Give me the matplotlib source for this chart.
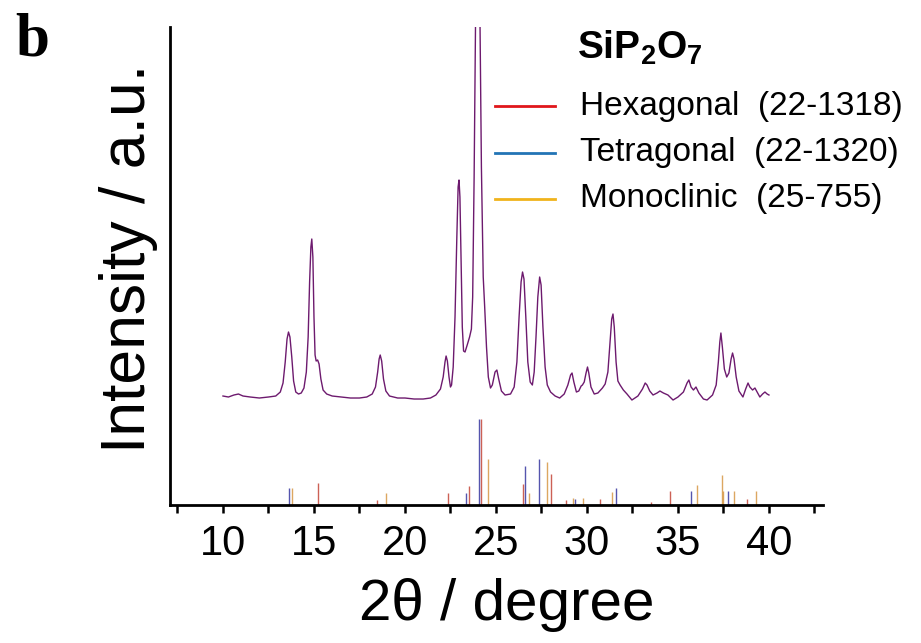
import matplotlib
matplotlib.use("Agg")
import matplotlib.pyplot as plt
from matplotlib.lines import Line2D

plt.rcParams['font.family'] = ['Liberation Sans', 'DejaVu Sans']
plt.rcParams['mathtext.fontset'] = 'custom'
plt.rcParams['mathtext.rm'] = 'Liberation Sans'
plt.rcParams['mathtext.bf'] = 'Liberation Sans:bold'

# measured SiP2O7 pattern: (2theta, intensity above its own baseline)
pattern = [
    (10.0, 1), (10.3, 0), (10.6, 2), (10.85, 3), (11.1, 1), (11.5, 0),
    (12.0, -1), (12.5, 0), (12.9, 1), (13.15, 5), (13.3, 14), (13.42, 35),
    (13.52, 58), (13.6, 65), (13.68, 60), (13.78, 40), (13.88, 16), (14.0, 5),
    (14.15, 3), (14.3, 4), (14.45, 9), (14.58, 25), (14.68, 60), (14.76, 115),
    (14.83, 150), (14.88, 158), (14.94, 140), (15.0, 80), (15.06, 42),
    (15.12, 36), (15.2, 37), (15.28, 33), (15.38, 18), (15.5, 7), (15.7, 3),
    (16.0, 1), (16.5, 0), (17.0, -1), (17.5, -1), (17.9, 0), (18.2, 3),
    (18.38, 10), (18.5, 25), (18.58, 38), (18.64, 42), (18.72, 36),
    (18.82, 18), (18.95, 6), (19.15, 1), (19.6, -1), (20.0, -1), (20.5, -2),
    (21.0, -2), (21.4, -1), (21.7, 2), (21.95, 8), (22.1, 20), (22.2, 35),
    (22.26, 41), (22.33, 36), (22.42, 20), (22.5, 10), (22.56, 12),
    (22.65, 30), (22.75, 80), (22.85, 160), (22.92, 210), (22.97, 217),
    (23.02, 200), (23.08, 140), (23.15, 70), (23.22, 46), (23.3, 45),
    (23.42, 52), (23.55, 60), (23.65, 68), (23.72, 100), (23.8, 220),
    (23.88, 380), (23.95, 430), (24.05, 430), (24.12, 380), (24.2, 230),
    (24.3, 120), (24.38, 90), (24.48, 50), (24.58, 20), (24.7, 9),
    (24.8, 12), (24.95, 25), (25.05, 27), (25.15, 18), (25.3, 6), (25.5, 2),
    (25.8, 3), (26.0, 10), (26.15, 35), (26.27, 80), (26.38, 115),
    (26.46, 125), (26.54, 118), (26.64, 80), (26.75, 35), (26.88, 15),
    (27.0, 12), (27.1, 25), (27.2, 60), (27.3, 100), (27.4, 120),
    (27.48, 112), (27.58, 70), (27.7, 30), (27.82, 12), (28.0, 5),
    (28.25, 1), (28.5, -1), (28.75, 3), (28.95, 12), (29.1, 22), (29.18, 24),
    (29.28, 15), (29.42, 5), (29.55, 6), (29.68, 11), (29.75, 12),
    (29.85, 15), (29.95, 24), (30.03, 30), (30.1, 24), (30.22, 10),
    (30.4, 3), (30.6, 4), (30.85, 9), (31.0, 13), (31.15, 25), (31.27, 55),
    (31.36, 78), (31.43, 83), (31.5, 70), (31.6, 35), (31.7, 16),
    (31.82, 12), (32.0, 7), (32.2, 3), (32.47, -3), (32.8, 1), (33.05, 8),
    (33.2, 14), (33.3, 12), (33.45, 6), (33.63, 2), (33.85, 4), (34.01, 6),
    (34.2, 4), (34.45, 2), (34.73, -3), (35.0, 0), (35.3, 5), (35.5, 14),
    (35.6, 17), (35.72, 10), (35.85, 7), (35.99, 10), (36.15, 4),
    (36.4, -2), (36.6, -3), (36.9, 2), (37.1, 12), (37.22, 35), (37.3, 55),
    (37.36, 64), (37.44, 50), (37.55, 28), (37.68, 20), (37.8, 24),
    (37.92, 38), (38.0, 44), (38.08, 38), (38.2, 20), (38.35, 6),
    (38.57, 0), (38.72, 8), (38.85, 14), (38.95, 10), (39.1, 7), (39.23, 9),
    (39.35, 5), (39.5, 0), (39.65, 3), (39.78, 5), (39.9, 3), (40.0, 2),
]
two_theta = [p[0] for p in pattern]
intensity = [p[1] for p in pattern]
curve_offset = 108

# reference card positions and relative intensities (%)
hex_pos = [15.22, 18.46, 22.36, 23.52, 24.18, 26.48, 28.02, 28.85, 30.71,
           33.52, 34.56, 38.79]
hex_int = [26, 6, 14, 22, 100, 25, 36, 6, 7, 4, 16, 7]
tet_pos = [13.63, 23.35, 24.05, 26.59, 27.36, 29.34, 31.59, 35.71, 37.75]
tet_int = [20, 14, 100, 45, 53, 7, 20, 16, 16]
mono_pos = [13.79, 18.96, 24.56, 26.81, 27.80, 29.23, 29.78, 31.37, 36.04,
            37.42, 37.47, 38.08, 39.29]
mono_int = [20, 14, 53, 14, 50, 8, 8, 15, 23, 35, 16, 16, 16]
stick_scale = 0.86

phases = ["Hexagonal  (22-1318)", "Tetragonal  (22-1320)", "Monoclinic  (25-755)"]
legend_colors = ["#e0161b", "#2274b5", "#f0b31c"]
stick_colors = ["#c0392b", "#2b2b9a", "#d4913a"]

fig = plt.figure(figsize=(9.21, 6.43), dpi=100)
ax = fig.add_axes([0.1846, 0.2146, 0.709, 0.7434])

for pos, inten, col in zip([hex_pos, tet_pos, mono_pos],
                           [hex_int, tet_int, mono_int], stick_colors):
    ax.vlines(pos, 0, [v * stick_scale for v in inten], colors=col,
              linewidth=1.0, alpha=0.8)

ax.plot(two_theta, [v + curve_offset for v in intensity], color="#6d1a6e",
        linewidth=1.0)

ax.set_xlim(7.09, 42.97)
ax.set_ylim(0, 478)
ax.set_xticks([7.5 + 2.5 * i for i in range(15)])
ax.set_xticklabels(["" if i % 2 == 0 else str(int(7.5 + 2.5 * i))
                    for i in range(15)])
ax.tick_params(axis="x", direction="out", length=6, width=1.8, pad=8,
               labelsize=30)
ax.set_yticks([])
for side in ["top", "right"]:
    ax.spines[side].set_visible(False)
for side in ["left", "bottom"]:
    ax.spines[side].set_linewidth(2)

fig.text(128 / 921, 1 - 258 / 643, "Intensity / a.u.", rotation=90,
         ha="center", va="center", fontsize=45)
fig.text(507 / 921, 1 - 605 / 643, "2θ / degree", ha="center", va="center",
         fontsize=42)
fig.text(15 / 921, 1 - 12 / 643, "b", ha="left", va="top", fontsize=44,
         family="Liberation Serif", weight="bold")

# legend drawn by hand
fig.text(577 / 921, 1 - 48 / 643, r"SiP$_\mathbf{2}$O$_\mathbf{7}$",
         ha="left", va="center", fontsize=28, weight="bold")
for i, (name, col) in enumerate(zip(phases, legend_colors)):
    yf = 1 - (106 + 46.5 * i) / 643
    fig.add_artist(Line2D([495 / 921, 555 / 921], [yf, yf], color=col,
                          linewidth=2))
    fig.text(580 / 921, yf, name, ha="left", va="center", fontsize=24)

fig.savefig("out.png", dpi=100)
